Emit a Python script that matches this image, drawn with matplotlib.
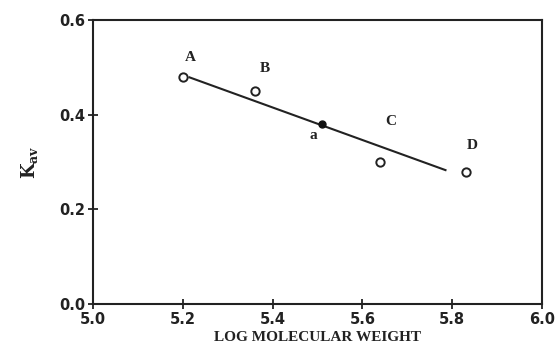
import matplotlib
matplotlib.use("Agg")
from matplotlib import pyplot as plt

plt.rcParams["mathtext.fontset"] = "dejavuserif"

# measured points (log MW, Kav)
labels = ["A", "B", "C", "D"]
log_mw = [5.20, 5.36, 5.64, 5.83]
kav = [0.48, 0.45, 0.30, 0.28]

# unknown sample "a"
sample_x = [5.51]
sample_y = [0.38]

# fitted line endpoints
fit_x = [5.215, 5.785]
fit_y = [0.479, 0.283]

# label positions
label_x = [5.216, 5.383, 5.664, 5.844]
label_y = [0.52, 0.498, 0.386, 0.335]

fig = plt.figure(figsize=(5.55, 3.53), dpi=100)
ax = fig.add_axes([0.1676, 0.1388, 0.8090, 0.8042])

ax.plot(fit_x, fit_y, color="#222222", lw=1.5, zorder=2)
ax.plot(log_mw, kav, "o", mfc="white", mec="#222222", mew=1.4, ms=6, zorder=3)
ax.plot(sample_x, sample_y, "o", color="#111111", ms=5, zorder=4)

serif = ["Liberation Serif", "DejaVu Serif"]
for lab, lx, ly in zip(labels, label_x, label_y):
    ax.text(lx, ly, lab, ha="center", va="center", fontsize=11,
            fontweight="bold", family=serif, color="#222222")
ax.text(5.49, 0.357, "a", ha="center", va="center", fontsize=11,
        fontweight="bold", family=serif, color="#222222")

ax.set_xlim(5.0, 6.0)
ax.set_ylim(0.0, 0.6)
ax.set_xticks([5.0, 5.2, 5.4, 5.6, 5.8, 6.0])
ax.set_yticks([0.0, 0.2, 0.4, 0.6])
ax.set_xticklabels(["5.0", "5.2", "5.4", "5.6", "5.8", "6.0"])
ax.set_yticklabels(["0.0", "0.2", "0.4", "0.6"])
ax.tick_params(direction="inout", length=7, width=1.3, labelsize=10.5,
               colors="#222222", pad=2)
for t in ax.get_xticklabels() + ax.get_yticklabels():
    t.set_fontweight("bold")
for s in ax.spines.values():
    s.set_linewidth(1.5)
    s.set_color("#222222")

ax.set_xlabel("LOG MOLECULAR WEIGHT", fontsize=11, fontweight="bold",
              family=serif, color="#222222", labelpad=3)
ax.set_ylabel(r"$\mathbf{K_{av}}$", fontsize=13, color="#222222", labelpad=14)

fig.savefig("out.png", dpi=100)
